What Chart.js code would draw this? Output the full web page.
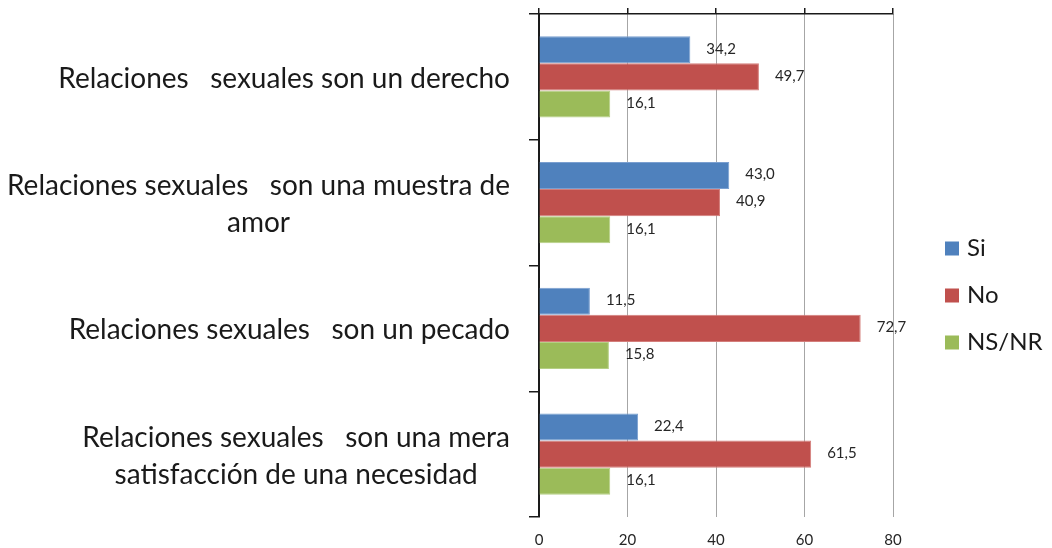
<!DOCTYPE html>
<html lang="es">
<head>
    <meta charset="UTF-8">
    <title>Relaciones sexuales</title>
    <style>
        body {
            margin: 0;
            padding: 0;
            background-color: #fff;
        }
        .chart-container {
            width: 1052px;
            height: 548px;
            position: relative;
        }
    </style>
    <script src="https://cdn.jsdelivr.net/npm/chart.js"></script>
</head>
<body>
    <div class="chart-container">
        <canvas id="barChart"></canvas>
    </div>
    <script>
        const categories = [
            ['Relaciones   sexuales son un derecho'],
            ['Relaciones sexuales   son una muestra de', 'amor'],
            ['Relaciones sexuales   son un pecado'],
            ['Relaciones sexuales   son una mera', 'satisfacción de una necesidad']
        ];
        const seriesNames = ['Si', 'No', 'NS/NR'];
        const siValues = [34.2, 43.0, 11.5, 22.4];
        const noValues = [49.7, 40.9, 72.7, 61.5];
        const nsnrValues = [16.1, 16.1, 15.8, 16.1];
        const xTicks = [0, 20, 40, 60, 80];

        const colors = ['#4f81bd', '#c0504d', '#9bbb59'];
        const borders = ['#7a9fd0', '#d47e7b', '#b5cf85'];
        const FONT = 'Lato, "Open Sans", sans-serif';

        // category labels, right aligned as a block, lines centered inside it
        const yLabelsPlugin = {
            id: 'yLabels',
            afterDraw(chart) {
                const ctx = chart.ctx;
                const y = chart.scales.y;
                const rightEdge = y.right - 29;
                const lineH = 37;
                ctx.save();
                ctx.font = '28px ' + FONT;
                ctx.fillStyle = '#1a1a1a';
                ctx.textAlign = 'center';
                ctx.textBaseline = 'middle';
                categories.forEach((lines, i) => {
                    const maxW = Math.max(...lines.map(l => ctx.measureText(l).width));
                    const cx = rightEdge - maxW / 2;
                    const cy = y.getPixelForTick(i) + 2;
                    const top = cy - (lines.length - 1) * lineH / 2;
                    lines.forEach((l, k) => ctx.fillText(l, cx, top + k * lineH));
                });
                ctx.restore();
            }
        };

        // value labels to the right of each bar
        const valueLabelsPlugin = {
            id: 'valueLabels',
            afterDatasetsDraw(chart) {
                const ctx = chart.ctx;
                ctx.save();
                ctx.font = '15px ' + FONT;
                ctx.fillStyle = '#262626';
                ctx.textAlign = 'left';
                ctx.textBaseline = 'middle';
                chart.data.datasets.forEach((ds, di) => {
                    const meta = chart.getDatasetMeta(di);
                    meta.data.forEach((bar, i) => {
                        const txt = ds.data[i].toFixed(1).replace('.', ',');
                        ctx.fillText(txt, bar.x + 16, bar.y - 1);
                    });
                });
                ctx.restore();
            }
        };

        // legend on the right
        const legendPlugin = {
            id: 'sideLegend',
            afterDraw(chart) {
                const ctx = chart.ctx;
                const area = chart.chartArea;
                const x0 = area.right + 52;
                const spacing = 47;
                const n = chart.data.datasets.length;
                const cy = (area.top + area.bottom) / 2 + 30;
                ctx.save();
                ctx.font = '24px ' + FONT;
                ctx.textAlign = 'left';
                ctx.textBaseline = 'middle';
                chart.data.datasets.forEach((ds, i) => {
                    const yy = cy + (i - (n - 1) / 2) * spacing;
                    ctx.fillStyle = ds.backgroundColor;
                    ctx.fillRect(x0, yy - 7, 14, 14);
                    ctx.fillStyle = '#1a1a1a';
                    ctx.fillText(ds.label, x0 + 22, yy);
                });
                ctx.restore();
            }
        };

        const ctx = document.getElementById('barChart').getContext('2d');
        new Chart(ctx, {
            type: 'bar',
            data: {
                labels: categories,
                datasets: [siValues, noValues, nsnrValues].map((vals, i) => ({
                    label: seriesNames[i],
                    data: vals,
                    backgroundColor: colors[i],
                    borderColor: borders[i],
                    borderWidth: 1,
                    categoryPercentage: 0.645,
                    barPercentage: 1.0
                }))
            },
            options: {
                indexAxis: 'y',
                responsive: true,
                maintainAspectRatio: false,
                animation: false,
                layout: {
                    padding: { left: 0, right: 159, top: 0, bottom: 0 }
                },
                plugins: {
                    legend: { display: false },
                    tooltip: { enabled: false }
                },
                scales: {
                    x: {
                        position: 'bottom',
                        min: 0,
                        max: 80,
                        afterBuildTicks: s => { s.ticks = xTicks.map(v => ({ value: v })); },
                        ticks: {
                            padding: 14,
                            color: '#262626',
                            font: { family: FONT, size: 15 }
                        },
                        grid: {
                            color: '#a6a6a6',
                            lineWidth: 1,
                            drawTicks: false
                        },
                        border: { display: false },
                        afterFit: s => { s.height = 31; }
                    },
                    x2: {
                        position: 'top',
                        type: 'linear',
                        min: 0,
                        max: 80,
                        afterBuildTicks: s => { s.ticks = xTicks.map(v => ({ value: v })); },
                        ticks: { display: false },
                        grid: {
                            drawOnChartArea: false,
                            color: '#1a1a1a',
                            tickLength: 6,
                            lineWidth: 1.5
                        },
                        border: { color: '#1a1a1a', width: 1.5 },
                        afterFit: s => { s.height = 14; }
                    },
                    y: {
                        position: 'left',
                        offset: true,
                        ticks: { display: false },
                        grid: {
                            offset: true,
                            drawOnChartArea: false,
                            color: '#1a1a1a',
                            tickLength: 10,
                            lineWidth: 1.5
                        },
                        border: { color: '#1a1a1a', width: 2 },
                        afterFit: s => { s.width = 539; }
                    }
                }
            },
            plugins: [yLabelsPlugin, valueLabelsPlugin, legendPlugin]
        });
    </script>
</body>
</html>
